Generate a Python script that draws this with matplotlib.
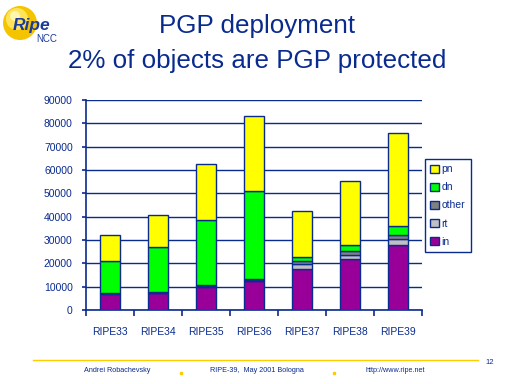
import matplotlib
matplotlib.use("Agg")
import matplotlib.pyplot as plt
import numpy as np
from matplotlib.patches import Circle

plt.rcParams['font.family'] = ['Liberation Sans', 'DejaVu Sans']

categories = ["RIPE33", "RIPE34", "RIPE35", "RIPE36", "RIPE37", "RIPE38", "RIPE39"]
in_vals    = [6900, 7200, 9800, 12300, 17600, 21700, 27700]
rt_vals    = [250, 300, 600, 600, 2300, 2000, 2900]
other_vals = [250, 250, 300, 300, 1000, 1400, 1400]
dn_vals    = [13600, 19200, 27700, 37700, 2000, 2900, 4000]
pn_vals    = [11100, 13700, 24000, 32100, 19700, 27400, 39700]
y_ticks = [0, 10000, 20000, 30000, 40000, 50000, 60000, 70000, 80000, 90000]

series = [("in", in_vals, "#990099"), ("rt", rt_vals, "#C0C0C0"),
          ("other", other_vals, "#808080"), ("dn", dn_vals, "#00FF00"),
          ("pn", pn_vals, "#FFFF00")]

NAVY = "#0a2b8e"
W, H = 512, 384
fig = plt.figure(figsize=(W / 100, H / 100), dpi=100)
fig.patch.set_facecolor("white")

ax = fig.add_axes([86 / W, 1 - 310 / H, 336 / W, 210 / H])
x = np.arange(len(categories))
bottom = np.zeros(len(categories))
handles = {}
for name, vals, col in series:
    vals = np.array(vals, dtype=float)
    b = ax.bar(x, vals, width=0.41, bottom=bottom, color=col, edgecolor=NAVY,
               linewidth=1.0, zorder=3, label=name)
    handles[name] = b
    bottom += vals

ax.set_xlim(-0.5, len(categories) - 0.5)
ax.set_ylim(0, 90000)
ax.set_yticks(y_ticks)
ax.set_yticklabels([str(v) for v in y_ticks])
ax.yaxis.grid(True, color=NAVY, linewidth=1.0, zorder=0)
ax.set_axisbelow(True)
for s in ["top", "right"]:
    ax.spines[s].set_visible(False)
for s in ["left", "bottom"]:
    ax.spines[s].set_color(NAVY)
    ax.spines[s].set_linewidth(1.2)

ax.set_xticks(x)
ax.set_xticklabels(categories)
ax.set_xticks(np.arange(len(categories) + 1) - 0.5, minor=True)
ax.tick_params(axis="x", which="major", length=0, pad=12, labelsize=7.5, labelcolor=NAVY)
ax.tick_params(axis="x", which="minor", length=4.5, width=1.2, color=NAVY, direction="out")
ax.tick_params(axis="y", length=3, width=1.2, color=NAVY, pad=6.5, labelsize=7.5, labelcolor=NAVY)

order = ["pn", "dn", "other", "rt", "in"]
leg = ax.legend([handles[n] for n in order], order, loc="upper left",
                bbox_to_anchor=(425 / W, 1 - 159 / H), bbox_transform=fig.transFigure,
                borderaxespad=0, frameon=True, fancybox=False, framealpha=1,
                edgecolor=NAVY, fontsize=7.5, handlelength=0.8, handleheight=0.8,
                handletextpad=0.3, labelspacing=0.78, borderpad=0.5, labelcolor=NAVY)
leg.get_frame().set_linewidth(1.0)

# overlay in pixel coords
ov = fig.add_axes([0, 0, 1, 1], zorder=-1)
ov.set_xlim(0, W)
ov.set_ylim(H, 0)
ov.axis("off")

ov.text(257, 33, "PGP deployment", ha="center", va="baseline", fontsize=18.7, color=NAVY)
ov.text(257, 68, "2% of objects are PGP protected", ha="center", va="baseline",
        fontsize=18.7, color=NAVY)

# logo
ov.add_patch(Circle((20, 23), 17, facecolor="#f5c400", edgecolor="none"))
ov.add_patch(Circle((17, 19), 11, facecolor="#ffe45a", edgecolor="none"))
ov.add_patch(Circle((15, 16), 5, facecolor="#fff6b0", edgecolor="none"))
ov.text(13, 30, "Ripe", ha="left", va="baseline", fontsize=12.5, fontweight="bold",
        fontstyle="italic", color="#1a3a9c")
ov.text(36, 42, "NCC", ha="left", va="baseline", fontsize=7, color="#1a3a9c")

# footer
ov.plot([33, 478], [359.5, 359.5], color="#FFCC00", linewidth=1.0)
ov.text(490, 362, "12", ha="center", va="center", fontsize=5.5, color=NAVY)
fs = 5.2
ov.text(117, 371, "Andrei Robachevsky", ha="center", va="center", fontsize=fs, color=NAVY)
ov.text(257, 371, "RIPE-39,  May 2001 Bologna", ha="center", va="center", fontsize=fs, color=NAVY)
ov.text(395, 371, "http://www.ripe.net", ha="center", va="center", fontsize=fs, color=NAVY)
ov.plot([180.5, 333.5], [372.5, 372.5], linestyle="none", marker="s", markersize=1.6,
        color="#FFCC00")

fig.savefig("out.png", dpi=100)
